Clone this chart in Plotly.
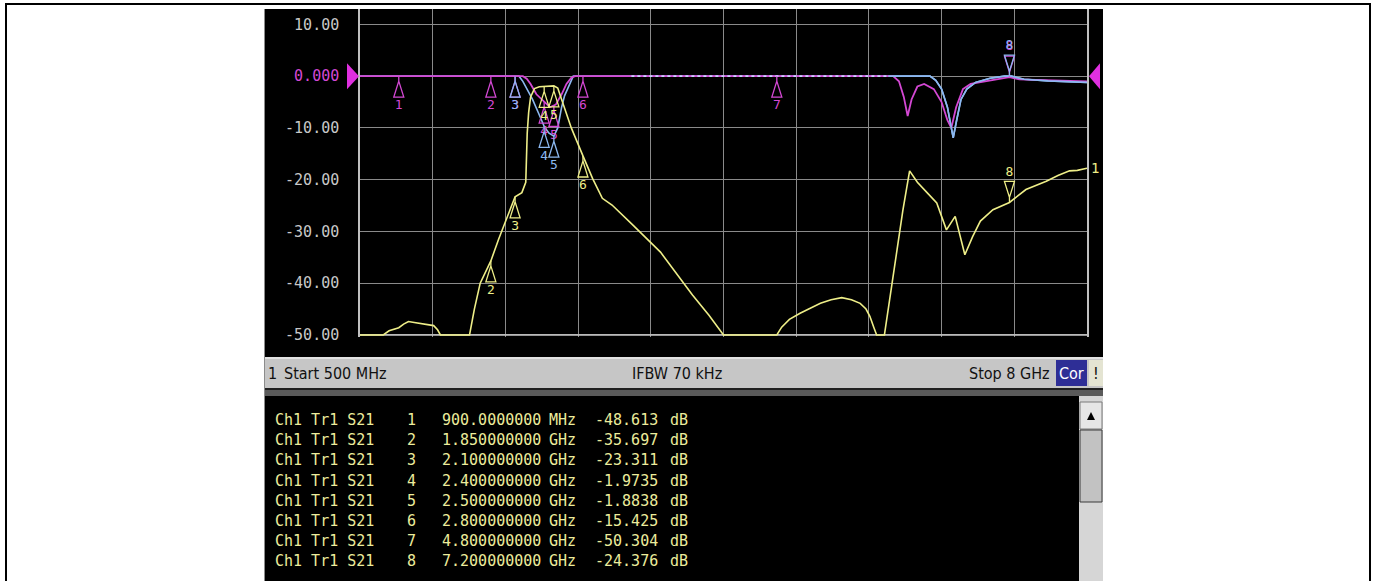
import numpy as np
import plotly.graph_objects as go

# ---------------- data ----------------
s21_freq_ghz = [0.50, 0.74, 0.80, 0.90, 0.95, 1.00, 1.06, 1.12, 1.20, 1.26, 1.30, 1.33,
                1.63, 1.68, 1.74, 1.80, 1.85, 1.93, 2.01, 2.10, 2.17, 2.21, 2.225, 2.24,
                2.26, 2.30, 2.35, 2.40, 2.45, 2.50, 2.54, 2.58, 2.68, 2.80, 2.90, 3.00,
                3.10, 3.30, 3.60, 3.93, 4.10, 4.25, 4.80, 4.85, 4.93, 5.04, 5.15, 5.25,
                5.36, 5.47, 5.57, 5.66, 5.72, 5.76, 5.80, 5.83, 5.91, 5.95, 6.03, 6.10,
                6.17, 6.25, 6.35, 6.45, 6.55, 6.64, 6.74, 6.82, 6.90, 7.03, 7.20, 7.37,
                7.58, 7.70, 7.82, 7.90, 8.00]
s21_db = [-50, -50, -49.2, -48.6, -47.9, -47.4, -47.6, -47.8, -48.0, -48.2, -49.0, -50,
          -50, -45, -40, -37.5, -35.7, -31.5, -27.7, -23.3, -22.5, -20.5, -11, -7,
          -4, -2.4, -2.05, -1.97, -1.9, -1.88, -2.3, -4.5, -10, -15.4, -19.8, -23.6,
          -24.9, -28.5, -34.0, -42.3, -46.2, -50, -50, -48.5, -47, -45.8, -44.8, -43.9,
          -43.2, -42.8, -43.2, -43.9, -45, -46.4, -48.5, -50, -50, -45, -35, -26,
          -18.3, -20.5, -22.5, -24.5, -29.7, -27.1, -34.5, -31, -28.0, -25.8, -24.4, -21.9,
          -20.3, -19.2, -18.3, -18.2, -17.8]

s11_freq_ghz = [0.50, 2.18, 2.22, 2.26, 2.32, 2.40, 2.46, 2.52, 2.58, 2.63, 2.68, 2.72,
                6.00, 6.06, 6.11, 6.15, 6.19, 6.25, 6.32, 6.42, 6.50, 6.56, 6.60, 6.65,
                6.72, 6.80, 7.00, 7.20, 7.30, 7.60, 8.00]
s11_db = [0, 0, -0.5, -1.5, -3.5, -5, -6, -5.5, -3.5, -1.5, -0.3, 0,
          0, -1, -4, -7.7, -4.5, -2, -1.5, -2.5, -5, -8.5, -10, -6,
          -2.5, -1.5, -0.8, -0.2, -0.6, -0.8, -1.0]

s22_freq_ghz = [0.50, 2.14, 2.18, 2.22, 2.28, 2.35, 2.40, 2.45, 2.50, 2.54, 2.58, 2.61,
                2.66, 2.70, 6.38, 6.44, 6.50, 6.56, 6.60, 6.62, 6.65, 6.70, 6.76, 6.85,
                7.00, 7.15, 7.22, 7.35, 7.60, 8.00]
s22_db = [0, 0, -1, -2.5, -4.5, -7.5, -9.7, -11, -11.6, -10, -6, -3.8,
          -1.5, 0, 0, -0.8, -2.5, -6, -10, -11.9, -9, -4.5, -2.5, -1.2,
          -0.4, 0, 0, -0.6, -0.9, -1.2]

marker_ids = [1, 2, 3, 4, 5, 6, 7, 8]
marker_freq_ghz = [0.9, 1.85, 2.1, 2.4, 2.5, 2.8, 4.8, 7.2]
marker_freq_text = ["900.0000000", "1.850000000", "2.100000000", "2.400000000",
                    "2.500000000", "2.800000000", "4.800000000", "7.200000000"]
marker_unit_text = ["MHz", "GHz", "GHz", "GHz", "GHz", "GHz", "GHz", "GHz"]
marker_s21_db = [-48.613, -35.697, -23.311, -1.9735, -1.8838, -15.425, -50.304, -24.376]
marker_value_text = ["-48.613", "-35.697", "-23.311", "-1.9735", "-1.8838", "-15.425",
                     "-50.304", "-24.376"]
table_trace_text = "Ch1 Tr1 S21"

y_tick_vals = [10, 0, -10, -20, -30, -40, -50]
y_tick_text = ["10.00", "0.000", "-10.00", "-20.00", "-30.00", "-40.00", "-50.00"]
x_grid_vals = [0.5, 1.25, 2.0, 2.75, 3.5, 4.25, 5.0, 5.75, 6.5, 7.25, 8.0]
ref_level_db = 0

status_left = "Start 500 MHz"
status_mid = "IFBW 70 kHz"
status_right = "Stop 8 GHz"

# ---------------- layout geometry ----------------
W, H = 1377, 581
PX_L, PX_R = 360, 1087
PY_T, PY_B = 9, 337
X_RANGE = [0.5, 8.0]
Y_RANGE = [-50.4, 12.98]
db_per_px = (Y_RANGE[1] - Y_RANGE[0]) / (PY_B - PY_T)
ghz_per_px = (X_RANGE[1] - X_RANGE[0]) / (PX_R - PX_L)


def fx(px):
    return px / W


def fy(py):
    return 1 - py / H


def data_px(f, v):
    return PX_L + (f - X_RANGE[0]) / ghz_per_px, PY_T + (Y_RANGE[1] - v) / db_per_px


YELLOW = "#eeee88"
MAGENTA = "#d448d4"
BLUE = "#8cb8f0"
GRID = "#8a8a8a"
TABLE_TXT = "#ecec9c"

fig = go.Figure()

# ---------------- traces ----------------
s11f = np.array(s11_freq_ghz)
s11d = np.array(s11_db)
s22f = np.array(s22_freq_ghz)
s22d = np.array(s22_db)

fig.add_trace(go.Scatter(x=s22f, y=s22d, mode="lines",
                         line=dict(color=BLUE, width=1.6), hoverinfo="skip"))
fig.add_trace(go.Scatter(x=s11f, y=s11d, mode="lines",
                         line=dict(color=MAGENTA, width=1.8), hoverinfo="skip"))
# light-blue trace showing through on the reference line (dotted look)
fig.add_trace(go.Scatter(x=[3.3, 5.95], y=np.interp([3.3, 5.95], s22f, s22d), mode="lines",
                         line=dict(color="#c8d4ff", width=1.6, dash="dot"), hoverinfo="skip"))
right = s22f >= 5.95
fig.add_trace(go.Scatter(x=np.concatenate([[5.95], s22f[right]]),
                         y=np.concatenate([[np.interp(5.95, s22f, s22d)], s22d[right]]),
                         mode="lines", line=dict(color=BLUE, width=1.6), hoverinfo="skip"))
fig.add_trace(go.Scatter(x=s21_freq_ghz, y=s21_db, mode="lines",
                         line=dict(color=YELLOW, width=1.6), hoverinfo="skip"))


# ---------------- marker glyphs ----------------
def marker_glyphs(freqs, vals, ids, color):
    xs, ys, tx, ty, tt = [], [], [], [], []
    d1, d2, d3 = 5 * db_per_px, 21 * db_per_px, 30 * db_per_px
    hw = 5 * ghz_per_px
    for f, v, i in zip(freqs, vals, ids):
        s = -1 if i == 8 else 1
        xs += [f, f, f - hw, f + hw, f, None]
        ys += [v, v - s * d1, v - s * d2, v - s * d2, v - s * d1, None]
        tx.append(f)
        ty.append(v - s * d3)
        tt.append(str(i))
    fig.add_trace(go.Scatter(x=xs, y=ys, mode="lines", line=dict(color=color, width=1.3),
                             hoverinfo="skip"))
    fig.add_trace(go.Scatter(x=tx, y=ty, mode="text", text=tt, cliponaxis=True,
                             textfont=dict(color=color, size=13, family="DejaVu Sans Mono"),
                             hoverinfo="skip"))


s11_mk = np.interp(marker_freq_ghz, s11f, s11d)
s22_mk = np.interp(marker_freq_ghz, s22f, s22d)
marker_glyphs(marker_freq_ghz, s11_mk, marker_ids, MAGENTA)
sel = [2, 3, 4, 7]
marker_glyphs([marker_freq_ghz[k] for k in sel], [s22_mk[k] for k in sel],
              [marker_ids[k] for k in sel], BLUE)
marker_glyphs(marker_freq_ghz[1:6] + marker_freq_ghz[7:], marker_s21_db[1:6] + marker_s21_db[7:],
              marker_ids[1:6] + marker_ids[7:], YELLOW)

# marker position indicators below the graticule
y_ind = Y_RANGE[0] - (345 - PY_B) * db_per_px
open_idx = [1, 2, 3, 4, 5]
fig.add_trace(go.Scatter(x=[marker_freq_ghz[k] for k in open_idx], y=[y_ind] * len(open_idx),
                         mode="markers", cliponaxis=False, hoverinfo="skip",
                         marker=dict(symbol="triangle-up-open", size=17,
                                     line=dict(color=MAGENTA, width=1.5), color=MAGENTA)))
red_idx = [0, 6]
fig.add_trace(go.Scatter(x=[marker_freq_ghz[k] for k in red_idx], y=[y_ind] * len(red_idx),
                         mode="markers", cliponaxis=False, hoverinfo="skip",
                         marker=dict(symbol="triangle-up", size=12, color="#d03a3a",
                                     line=dict(color="#ffa0a0", width=1.5))))
fig.add_trace(go.Scatter(x=[marker_freq_ghz[7]], y=[y_ind], mode="markers", cliponaxis=False,
                         hoverinfo="skip",
                         marker=dict(symbol="triangle-up", size=17, color="#e030e0",
                                     line=dict(width=0))))

# ---------------- chrome (screen shapes) ----------------
shapes = []


def rect(x0, y0, x1, y1, fill, line=None, lw=0, layer="below"):
    shapes.append(dict(type="rect", xref="paper", yref="paper",
                       x0=fx(x0), x1=fx(x1), y0=fy(y1), y1=fy(y0),
                       fillcolor=fill, line=dict(color=line or fill, width=lw), layer=layer))


def tri(points, fill):
    path = "M " + " L ".join(f"{fx(px):.5f},{fy(py):.5f}" for px, py in points) + " Z"
    shapes.append(dict(type="path", xref="paper", yref="paper", path=path,
                       fillcolor=fill, line=dict(width=0), layer="above"))


# outer page frame
shapes.append(dict(type="rect", xref="paper", yref="paper", x0=fx(6), x1=fx(1370),
                   y0=fy(600), y1=fy(4), line=dict(color="black", width=2),
                   fillcolor="rgba(0,0,0,0)", layer="below"))
# screen
rect(264, 9, 1103, 357, "#000000")
shapes.append(dict(type="line", xref="paper", yref="paper", x0=fx(264.5), x1=fx(264.5),
                   y0=fy(581), y1=fy(9), line=dict(color="#8c8c8c", width=1), layer="below"))
# status bar
rect(265, 357, 1103, 388, "#c6c6c6")
rect(265, 357, 1103, 359, "#e2e2e2")
rect(265, 388, 1103, 390, "#202020")
rect(265, 390, 1103, 396, "#5a5a5a")
rect(265, 396, 1079, 581, "#000000")
rect(1056, 360, 1087, 386, "#2e2e96")
rect(1089, 360, 1103, 386, "#e4e4d2")
# scrollbar
rect(1079, 396, 1103, 581, "#d6d6d6")
rect(1080, 402, 1102, 429, "#e6e6e6", "#7a7a7a", 1)
rect(1080, 430, 1102, 502, "#c2c2c2", "#3a3a3a", 1)
tri([(1087, 420), (1095, 420), (1091, 412)], "#000000")
# bottom line of the graticule
shapes.append(dict(type="line", xref="x", yref="y", x0=X_RANGE[0], x1=X_RANGE[1], y0=-50, y1=-50,
                   line=dict(color="#c8c8c8", width=1.5), layer="between"))

# reference-level arrows at both ends of the graticule
lx, ly = data_px(X_RANGE[0], ref_level_db)
tri([(lx - 13, ly - 13), (lx - 1, ly), (lx - 13, ly + 13)], "#e030e0")
rx, ry = data_px(X_RANGE[1], ref_level_db)
tri([(rx + 13, ry - 13), (rx + 2, ry), (rx + 13, ry + 13)], "#e030e0")

fig.update_layout(shapes=shapes)

# ---------------- annotations ----------------
ann = []
SB_FONT = "Liberation Sans Narrow, DejaVu Sans Condensed, Liberation Sans, sans-serif"


def text(px, py, t, color, size, family, xanchor="left"):
    ann.append(dict(x=fx(px), y=fy(py), xref="paper", yref="paper", text=t, showarrow=False,
                    xanchor=xanchor, yanchor="middle", font=dict(color=color, size=size, family=family)))


# trace number at the end of trace 1
ex, ey = data_px(s21_freq_ghz[-1], s21_db[-1])
text(ex + 2, ey, "1", YELLOW, 14, "DejaVu Sans Mono")

text(266, 373, "1", "#111111", 16, SB_FONT)
text(282, 373, status_left, "#111111", 16, SB_FONT)
text(630, 373, status_mid, "#111111", 16, SB_FONT)
text(967, 373, status_right, "#111111", 16, SB_FONT)
text(1071.5, 373, "Cor", "#ffffff", 16, SB_FONT, xanchor="center")
text(1096, 373, "!", "#111111", 16, SB_FONT, xanchor="center")

MONO = "DejaVu Sans Mono"
for r in range(len(marker_ids)):
    yy = 420 + 20.2 * r
    text(273, yy, table_trace_text.replace(" ", "&nbsp;"), TABLE_TXT, 15, MONO)
    text(411, yy, str(marker_ids[r]), TABLE_TXT, 15, MONO, xanchor="center")
    text(440, yy, marker_freq_text[r], TABLE_TXT, 15, MONO)
    text(547, yy, marker_unit_text[r], TABLE_TXT, 15, MONO)
    text(593, yy, marker_value_text[r], TABLE_TXT, 15, MONO)
    text(668, yy, "dB", TABLE_TXT, 15, MONO)

fig.update_layout(annotations=ann)

tick_text = [t if v != 0 else '<span style="color:#d448d4">' + t + "</span>"
             for v, t in zip(y_tick_vals, y_tick_text)]

fig.update_layout(
    width=W, height=H, margin=dict(l=0, r=0, t=0, b=0, pad=0, autoexpand=False),
    paper_bgcolor="white", plot_bgcolor="black", showlegend=False,
    xaxis=dict(domain=[fx(PX_L), fx(PX_R)], range=X_RANGE, tickvals=x_grid_vals,
               showticklabels=False, ticks="", showgrid=True, gridcolor=GRID, gridwidth=1,
               zeroline=False, showline=False, fixedrange=True, automargin=False),
    yaxis=dict(domain=[fy(PY_B), fy(PY_T)], range=Y_RANGE, tickvals=y_tick_vals,
               ticktext=tick_text, ticks="", ticklabelstandoff=16, automargin=False,
               tickfont=dict(color="#c8c8c8", size=15, family="DejaVu Sans Mono"),
               showgrid=True, gridcolor=GRID, gridwidth=1, zeroline=False,
               showline=True, mirror=True, linecolor="#c0c0c0", linewidth=1.5, fixedrange=True),
)

fig.write_html("out.html", config={"displayModeBar": False},
               post_script="document.body.style.margin='0px';document.body.style.overflow='hidden';")
